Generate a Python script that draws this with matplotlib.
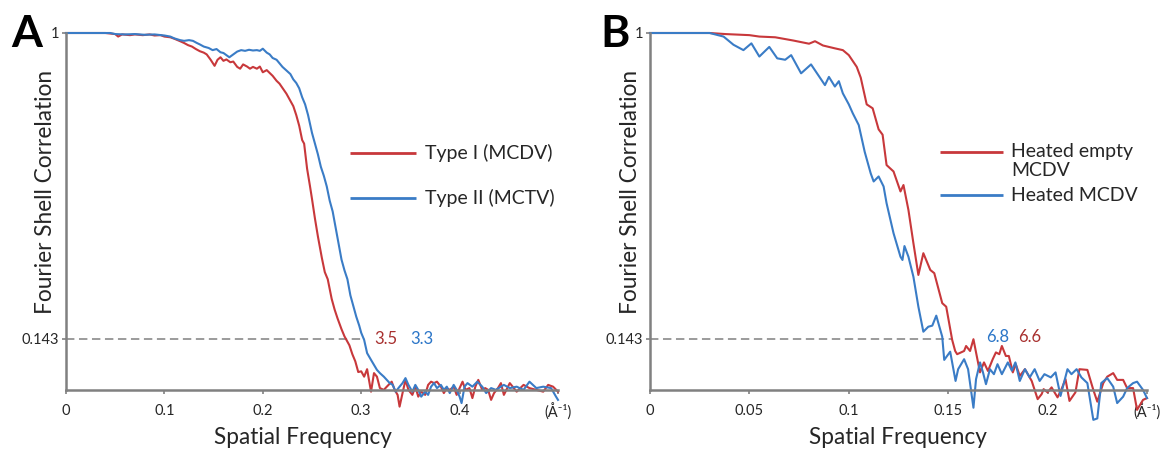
"""
FSC curves for the two capsid types (A) and the heated particles (B).
Values read off the published figure.
"""
import matplotlib
matplotlib.use("Agg")
import matplotlib.pyplot as plt

plt.rcParams["font.family"] = ["Lato", "DejaVu Sans"]

RED = "#C8383B"
BLUE = "#3A7CC6"
RED_TXT = "#A8302F"
BLUE_TXT = "#2C76C8"
GREY = "#808080"
INK = "#262626"

FSC_CUTOFF = 0.143

# ---------------- panel A ----------------
A_RED_X = [0, 0.04, 0.05, 0.053, 0.057, 0.065, 0.07, 0.078, 0.085, 0.09, 0.096, 0.1,
           0.106, 0.11, 0.116, 0.12, 0.124, 0.128, 0.132, 0.136, 0.14, 0.143, 0.147,
           0.151, 0.154, 0.157, 0.16, 0.163, 0.167, 0.17, 0.174, 0.177, 0.18, 0.184,
           0.187, 0.19, 0.194, 0.197, 0.2, 0.204, 0.21, 0.214, 0.217, 0.22, 0.224,
           0.228, 0.231, 0.234, 0.237, 0.24, 0.242, 0.245, 0.248, 0.25, 0.253, 0.256,
           0.26, 0.263, 0.266, 0.27, 0.273, 0.276, 0.28, 0.283, 0.285, 0.288, 0.291,
           0.294, 0.297, 0.3, 0.303, 0.306, 0.31, 0.313, 0.316, 0.319, 0.323, 0.326,
           0.331, 0.334, 0.337, 0.339, 0.342, 0.345, 0.348, 0.352, 0.355, 0.358,
           0.361, 0.365, 0.368, 0.371, 0.374, 0.377, 0.381, 0.384, 0.387, 0.39,
           0.394, 0.397, 0.4, 0.403, 0.406, 0.41, 0.413, 0.416, 0.419, 0.423, 0.426,
           0.429, 0.432, 0.435, 0.439, 0.442, 0.445, 0.451, 0.458, 0.465, 0.471,
           0.478, 0.485, 0.49, 0.495, 0.5]
A_RED_Y = [1.0, 1.0, 0.997, 0.99, 0.996, 0.994, 0.996, 0.994, 0.996, 0.993, 0.994, 0.99,
           0.988, 0.984, 0.977, 0.972, 0.966, 0.962, 0.955, 0.949, 0.945, 0.94, 0.925,
           0.908, 0.925, 0.932, 0.922, 0.926, 0.918, 0.92, 0.905, 0.9, 0.912, 0.906,
           0.9, 0.905, 0.9, 0.906, 0.89, 0.896, 0.88, 0.866, 0.858, 0.846, 0.83,
           0.81, 0.795, 0.77, 0.74, 0.7, 0.69, 0.62, 0.57, 0.535, 0.48, 0.43,
           0.37, 0.33, 0.31, 0.255, 0.225, 0.2, 0.17, 0.15, 0.14, 0.125, 0.1,
           0.08, 0.05, 0.052, 0.037, 0.058, -0.005, 0.047, 0.037, 0.005, 0.0, 0.009,
           0.023, 0.0, -0.014, -0.047, -0.009, 0.028, 0.0, -0.014, 0.009, -0.019,
           -0.005, -0.014, 0.014, 0.023, 0.019, 0.023, 0.009, -0.009, 0.005, 0.0,
           0.009, -0.014, 0.005, 0.023, 0.0, 0.005, -0.023, 0.009, 0.028, 0.0, 0.005,
           0.0, -0.028, -0.009, 0.005, 0.019, -0.014, 0.019, -0.005, 0.014, 0.005,
           0.0, -0.005, 0.014, 0.009, -0.005]

A_BLUE_X = [0, 0.045, 0.05, 0.06, 0.07, 0.08, 0.09, 0.1, 0.106, 0.11, 0.116, 0.12,
            0.125, 0.129, 0.133, 0.136, 0.14, 0.145, 0.149, 0.153, 0.157, 0.16, 0.163,
            0.166, 0.17, 0.174, 0.178, 0.182, 0.186, 0.19, 0.194, 0.197, 0.2, 0.204,
            0.207, 0.21, 0.214, 0.217, 0.22, 0.224, 0.228, 0.231, 0.234, 0.237, 0.24,
            0.243, 0.246, 0.25, 0.253, 0.256, 0.259, 0.262, 0.265, 0.268, 0.271,
            0.274, 0.277, 0.28, 0.283, 0.286, 0.289, 0.292, 0.295, 0.298, 0.3, 0.303,
            0.306, 0.31, 0.313, 0.316, 0.319, 0.323, 0.326, 0.329, 0.332, 0.335,
            0.339, 0.342, 0.345, 0.348, 0.352, 0.355, 0.358, 0.361, 0.365, 0.368,
            0.371, 0.374, 0.377, 0.381, 0.384, 0.387, 0.39, 0.394, 0.397, 0.4, 0.402,
            0.405, 0.408, 0.413, 0.418, 0.423, 0.427, 0.432, 0.437, 0.442, 0.445,
            0.451, 0.458, 0.465, 0.471, 0.478, 0.485, 0.493, 0.498, 0.5]
A_BLUE_Y = [1.0, 1.0, 0.997, 0.996, 0.997, 0.995, 0.996, 0.993, 0.99, 0.985, 0.98, 0.978,
            0.98, 0.978, 0.972, 0.968, 0.962, 0.958, 0.952, 0.955, 0.946, 0.944, 0.938,
            0.932, 0.94, 0.948, 0.952, 0.95, 0.953, 0.951, 0.952, 0.95, 0.956, 0.945,
            0.94, 0.93, 0.925, 0.915, 0.905, 0.895, 0.885, 0.87, 0.86, 0.845, 0.82,
            0.8, 0.77, 0.72, 0.69, 0.66, 0.625, 0.6, 0.57, 0.53, 0.5,
            0.455, 0.41, 0.365, 0.335, 0.31, 0.265, 0.235, 0.205, 0.18, 0.16, 0.14,
            0.103, 0.084, 0.07, 0.056, 0.047, 0.037, 0.028, 0.019, 0.014, -0.005,
            0.009, 0.019, 0.033, 0.014, -0.005, 0.014, 0.0, -0.019, -0.005, -0.014,
            0.009, 0.019, 0.005, 0.014, 0.0, 0.009, -0.009, 0.014, 0.0, -0.019, -0.037,
            0.009, 0.019, 0.009, 0.023, 0.009, -0.009, 0.005, 0.0, 0.009, 0.014,
            0.005, 0.009, 0.0, 0.023, 0.005, 0.009, 0.005, -0.019, -0.028]

# ---------------- panel B ----------------
B_RED_X = [0, 0.03, 0.038, 0.05, 0.055, 0.063, 0.072, 0.08, 0.083, 0.087, 0.093, 0.097,
           0.1, 0.104, 0.106, 0.109, 0.112, 0.115, 0.117, 0.119, 0.1225, 0.126, 0.1275,
           0.13, 0.1325, 0.135, 0.1375, 0.141, 0.143, 0.147, 0.149, 0.152, 0.1535,
           0.1545, 0.158, 0.159, 0.161, 0.1627, 0.164, 0.166, 0.168, 0.17, 0.1724,
           0.174, 0.1757, 0.177, 0.179, 0.1805, 0.1825, 0.184, 0.186, 0.1886, 0.192,
           0.195, 0.197, 0.198, 0.2, 0.202, 0.205, 0.207, 0.209, 0.211, 0.214, 0.216,
           0.22, 0.223, 0.225, 0.228, 0.23, 0.233, 0.235, 0.238, 0.24, 0.243, 0.245,
           0.248, 0.25]
B_RED_Y = [1.0, 1.0, 0.997, 0.994, 0.99, 0.988, 0.979, 0.97, 0.977, 0.965, 0.957, 0.952,
           0.938, 0.905, 0.875, 0.80, 0.789, 0.73, 0.715, 0.63, 0.612, 0.556, 0.574,
           0.504, 0.411, 0.322, 0.383, 0.336, 0.327, 0.243, 0.233, 0.14, 0.109,
           0.1, 0.109, 0.123, 0.109, 0.142, 0.105, 0.049, 0.077, 0.053, 0.086,
           0.105, 0.1, 0.123, 0.095, 0.095, 0.049, 0.072, 0.039, 0.058, 0.025,
           -0.026, -0.012, 0.002, -0.007, 0.007, -0.021, 0.002, 0.03, -0.031, -0.007, 0.058,
           0.056, 0.0, -0.033, 0.019, 0.037, 0.047, 0.028, 0.028, 0.005, 0.005, -0.056,
           -0.028, -0.023]

B_BLUE_X = [0, 0.03, 0.037, 0.042, 0.047, 0.051, 0.055, 0.06, 0.064, 0.068, 0.071, 0.076,
            0.081, 0.088, 0.09, 0.093, 0.095, 0.097, 0.1, 0.102, 0.105, 0.108, 0.111,
            0.1125, 0.115, 0.1175, 0.119, 0.1225, 0.126, 0.127, 0.128, 0.13, 0.1325,
            0.135, 0.1375, 0.14, 0.142, 0.144, 0.147, 0.148, 0.151, 0.1537, 0.155,
            0.158, 0.16, 0.1627, 0.164, 0.166, 0.1675, 0.169, 0.171, 0.173, 0.1748,
            0.177, 0.18, 0.182, 0.1838, 0.186, 0.1886, 0.191, 0.1935, 0.196, 0.1984,
            0.2016, 0.204, 0.2065, 0.21, 0.212, 0.2146, 0.217, 0.22, 0.223, 0.225,
            0.227, 0.23, 0.233, 0.235, 0.238, 0.24, 0.243, 0.245, 0.248, 0.25]
B_BLUE_Y = [1.0, 1.0, 0.99, 0.967, 0.952, 0.971, 0.934, 0.961, 0.929, 0.925, 0.938, 0.887,
            0.912, 0.854, 0.877, 0.85, 0.865, 0.831, 0.80, 0.775, 0.742, 0.667, 0.607,
            0.584, 0.598, 0.57, 0.523, 0.439, 0.373, 0.364, 0.403, 0.373, 0.317,
            0.233, 0.163, 0.177, 0.18, 0.208, 0.149, 0.084, 0.107, 0.025, 0.058,
            0.086, 0.058, -0.05, 0.03, 0.077, 0.049, 0.016, 0.058, 0.044, 0.072,
            0.044, 0.077, 0.054, 0.077, 0.025, 0.058, 0.035, 0.058, 0.025, 0.044,
            0.035, 0.049, -0.017, 0.058, 0.044, 0.058, 0.035, 0.019, -0.084, -0.08,
            0.019, 0.033, 0.009, -0.037, -0.019, 0.005, 0.019, 0.023, 0.0, -0.023]

A_TICKS = [0, 0.1, 0.2, 0.3, 0.4, 0.5]
A_TICKLABELS = ["0", "0.1", "0.2", "0.3", "0.4", "(Å⁻¹)"]
B_TICKS = [0, 0.05, 0.1, 0.15, 0.2, 0.25]
B_TICKLABELS = ["0", "0.05", "0.1", "0.15", "0.2", "(Å⁻¹)"]

A_LABELS = ["Type I (MCDV)", "Type II (MCTV)"]
B_LABELS = ["Heated empty\nMCDV", "Heated MCDV"]

A_DASH_END = 0.304
B_DASH_END = 0.152
A_RES = ["3.5", "3.3"]      # red, blue
B_RES = ["6.8", "6.6"]      # blue, red


def style_axes(ax, xmax, ticks, ticklabels):
    ax.set_xlim(0, xmax)
    ax.set_ylim(-0.09, 1.0)
    for s in ("top", "right"):
        ax.spines[s].set_visible(False)
    ax.spines["left"].set_bounds(0, 1)
    ax.spines["bottom"].set_position(("data", 0))
    for s in ("left", "bottom"):
        ax.spines[s].set_color(GREY)
        ax.spines[s].set_linewidth(1.8)
    ax.set_xticks(ticks)
    ax.set_xticklabels(ticklabels)
    ax.set_yticks([FSC_CUTOFF, 1])
    ax.set_yticklabels(["0.143", "1"])
    ax.tick_params(axis="x", length=3, width=1.2, color=GREY, pad=7,
                   labelsize=10.5, labelcolor=INK)
    ax.tick_params(axis="y", length=3, width=1.2, color=GREY, pad=2,
                   labelsize=10.5, labelcolor=INK)
    ax.set_xlabel("Spatial Frequency", fontsize=16.3, color=INK)
    ax.set_ylabel("Fourier Shell Correlation", fontsize=16.3, color=INK)


def add_key(ax, x0, x1, y, color, label, text_y=None, va="center"):
    ax.plot([x0, x1], [y, y], color=color, lw=2.0, transform=ax.transAxes,
            clip_on=False, solid_capstyle="butt")
    ax.text(x1 + 0.017, y if text_y is None else text_y, label, fontsize=14,
            color=INK, va=va, ha="left", transform=ax.transAxes, linespacing=1.2)


fig = plt.figure(figsize=(11.64, 4.51), dpi=100)
H = 451.0
W = 1164.0
bottom = 1 - 422 / H
height = (422 - 33) / H
axA = fig.add_axes([66 / W, bottom, 492 / W, height])
axB = fig.add_axes([650 / W, bottom, 497 / W, height])

# ---- A ----
axA.hlines(FSC_CUTOFF, 0, A_DASH_END, color=GREY, lw=1.1, linestyles=(0, (5.5, 3)))
axA.plot(A_RED_X, A_RED_Y, color=RED, lw=1.5, clip_on=False)
axA.plot(A_BLUE_X, A_BLUE_Y, color=BLUE, lw=1.5, clip_on=False)
style_axes(axA, 0.5, A_TICKS, A_TICKLABELS)
axA.xaxis.set_label_coords(0.482, -0.012)
axA.yaxis.set_label_coords(-0.02, 0.59)
axA.text(0.313, FSC_CUTOFF, A_RES[0], color=RED_TXT, fontsize=12, va="center")
axA.text(0.3495, FSC_CUTOFF, A_RES[1], color=BLUE_TXT, fontsize=12, va="center")
add_key(axA, 0.578, 0.712, 0.6915, RED, A_LABELS[0])
add_key(axA, 0.578, 0.712, 0.5758, BLUE, A_LABELS[1])

# ---- B ----
axB.hlines(FSC_CUTOFF, 0, B_DASH_END, color=GREY, lw=1.1, linestyles=(0, (5.5, 3)))
axB.plot(B_RED_X, B_RED_Y, color=RED, lw=1.5, clip_on=False)
axB.plot(B_BLUE_X, B_BLUE_Y, color=BLUE, lw=1.5, clip_on=False)
style_axes(axB, 0.25, B_TICKS, B_TICKLABELS)
axB.xaxis.set_label_coords(0.499, -0.012)
axB.yaxis.set_label_coords(-0.018, 0.59)
axB.text(0.169, FSC_CUTOFF + 0.005, B_RES[0], color=BLUE_TXT, fontsize=12, va="center")
axB.text(0.185, FSC_CUTOFF + 0.005, B_RES[1], color=RED_TXT, fontsize=12, va="center")
add_key(axB, 0.5835, 0.710, 0.694, RED, B_LABELS[0], text_y=0.718, va="top")
add_key(axB, 0.5835, 0.710, 0.5835, BLUE, B_LABELS[1])

# panel letters
fig.text(11 / W, 1 - 47 / H, "A", fontsize=32, fontweight="bold", va="baseline")
fig.text(600 / W, 1 - 47 / H, "B", fontsize=32, fontweight="bold", va="baseline")

fig.savefig("out.png", dpi=100)
